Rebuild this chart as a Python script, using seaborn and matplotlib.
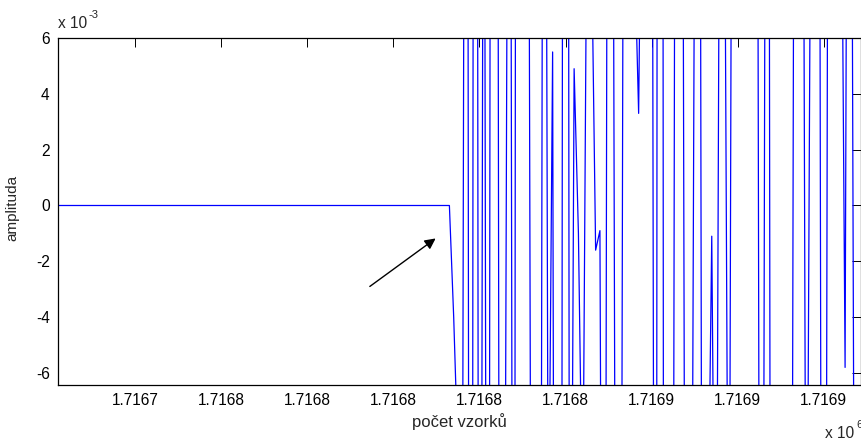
import matplotlib
matplotlib.use("Agg")
import matplotlib.pyplot as plt
import matplotlib.ticker as mticker
import seaborn as sns
import pandas as pd

# prvni vzorek v okne a posledni vzorek s nulovou hodnotou
prvni_vzorek = 1716720
nulove_vzorky = 94  # 1716720 .. 1716813 je signal nulovy

# hodnoty po skoku (v jednotkach 1e-3)
hodnoty_po_skoku = [
    -4.0, -9, -15, 50, -75, 85, -50, 27, -50, 75,
    40, -55, -10, 35, -43, 100, 60, 40, -17, -40,
    -40, 40, -14, 5.5, -62, -30, 100, -27, 4.9, -1.0,
    -12, 12, 10, -1.6, -0.9, -40, 38, 17, -37, -15,
    50, 40, 9.4, 3.3, 18, 30, 28, -50, 150, -60,
    -60, -20, 57, 30, -30, -30, 10.5, 40, -40, -14,
    -1.1, -20, 21, 12, -20, 34, 40, 50, 40, 30,
    60, -10, -15, 50, -56, -40, -50, -40, -60, 7,
    40, 28, -20, 12, 30, 20, -57, 14, 40, 40,
    16.4, -5.8, 40, -8, -30, -30, -30,
]

x_ticks = [1716740, 1716760, 1716780, 1716800, 1716820,
           1716840, 1716860, 1716880, 1716900]
y_ticks = [-6e-3, -4e-3, -2e-3, 0, 2e-3, 4e-3, 6e-3]
x_limity = (1716722.0, 1716908.7)
y_limity = (-6.43e-3, 6e-3)

# sipka (konec, hrot) v datovych souradnicich
sipka_od = (1716794.5, -2.9e-3)
sipka_do = (1716809.8, -1.18e-3)

amplituda = [0.0] * nulove_vzorky + [h * 1e-3 for h in hodnoty_po_skoku]
df = pd.DataFrame({
    "vzorek": range(prvni_vzorek, prvni_vzorek + len(amplituda)),
    "amplituda": amplituda,
})

sns.set_style("white")
plt.rcParams["font.family"] = ["Liberation Sans", "DejaVu Sans"]
plt.rcParams["axes.unicode_minus"] = False

fig = plt.figure(figsize=(8.62, 4.42), dpi=100)
ax = fig.add_axes([58 / 862, 1 - 385 / 442, 803 / 862, 347 / 442])

sns.lineplot(data=df, x="vzorek", y="amplituda", ax=ax, color="#0000ff",
             lw=0.9, estimator=None, sort=False)

ax.set_xlim(*x_limity)
ax.set_ylim(*y_limity)
ax.set_xticks(x_ticks)
ax.set_yticks(y_ticks)
ax.xaxis.set_major_formatter(mticker.FuncFormatter(lambda v, p: f"{v / 1e6:.4f}"))
ax.yaxis.set_major_formatter(mticker.FuncFormatter(lambda v, p: f"{round(v * 1e3):d}"))
ax.tick_params(direction="in", length=6.5, width=0.7, top=True, right=True,
               labelsize=11.2, colors="black", pad=6)
for s in ax.spines.values():
    s.set_visible(True)
    s.set_color("black")
    s.set_linewidth(0.9)

ax.set_xlabel("")
ax.set_ylabel("")

ax.annotate("", xy=sipka_do, xytext=sipka_od,
            arrowprops=dict(arrowstyle="-|>", color="black", lw=1.0,
                            mutation_scale=16, shrinkA=0, shrinkB=0))

# popisky a nasobitele os jako v MATLABu
fig.text(459 / 862, 1 - 422 / 442, "počet vzorků", ha="center", va="center", fontsize=12)
fig.text(12 / 862, 1 - 208 / 442, "amplituda", ha="center", va="center",
         rotation=90, fontsize=11)
fig.text(58 / 862, 1 - 28 / 442, "x 10", ha="left", va="baseline", fontsize=11.2)
fig.text(89 / 862, 1 - 18 / 442, "-3", ha="left", va="baseline", fontsize=8)
fig.text(825 / 862, 1 - 438 / 442, "x 10", ha="left", va="baseline", fontsize=11.2)
fig.text(856 / 862, 1 - 428 / 442, "6", ha="left", va="baseline", fontsize=8)

fig.savefig("out.png", dpi=100)
plt.close(fig)
